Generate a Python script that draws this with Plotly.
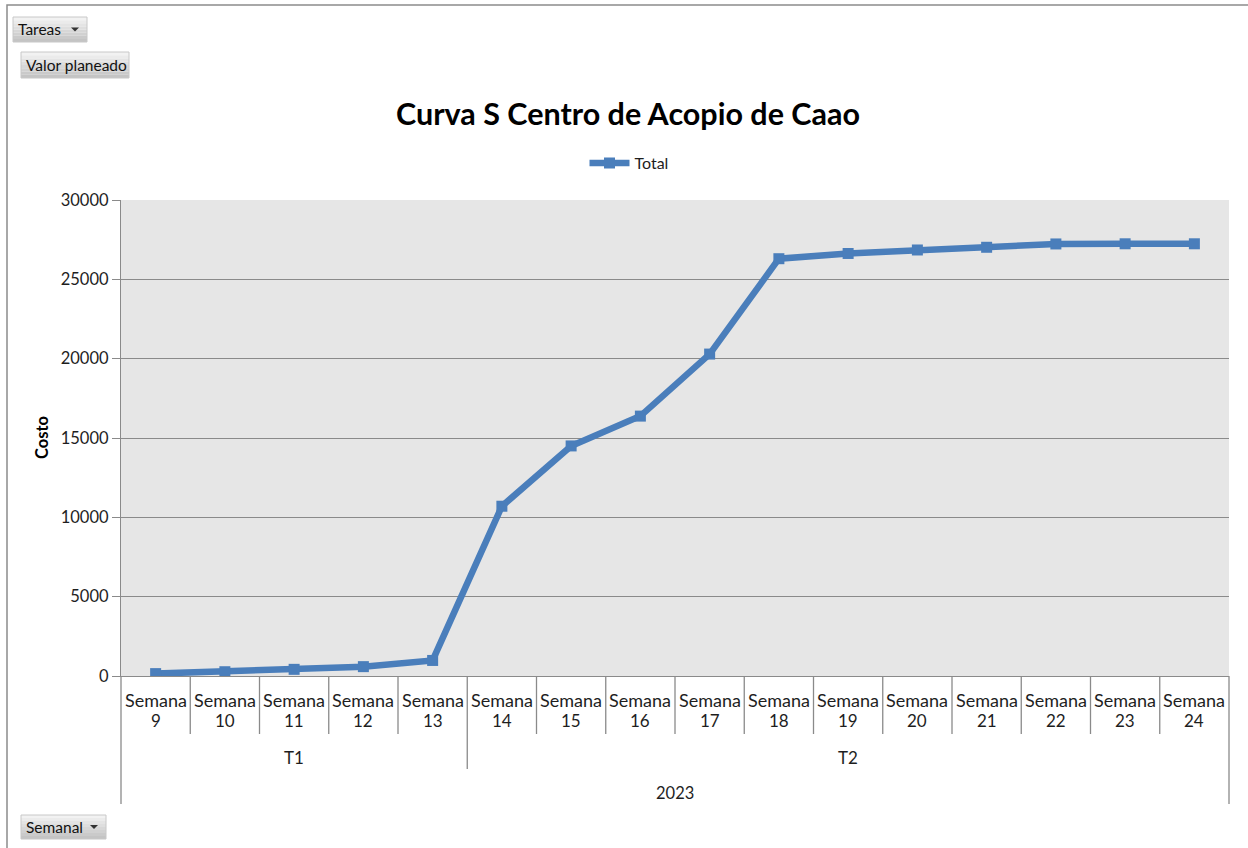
import plotly.graph_objects as go

# ---------------- data ----------------
weeks = ["Semana 9", "Semana 10", "Semana 11", "Semana 12", "Semana 13", "Semana 14",
         "Semana 15", "Semana 16", "Semana 17", "Semana 18", "Semana 19", "Semana 20",
         "Semana 21", "Semana 22", "Semana 23", "Semana 24"]
week_word = "Semana"
week_numbers = ["9", "10", "11", "12", "13", "14", "15", "16", "17", "18", "19", "20",
                "21", "22", "23", "24"]
quarters = ["T1", "T2"]
quarter_sizes = [5, 11]
year_label = "2023"
total = [150, 270, 420, 590, 980, 10700, 14500, 16380, 20290, 26300, 26630, 26850,
         27020, 27230, 27240, 27240]
y_ticks = [0, 5000, 10000, 15000, 20000, 25000, 30000]

# ---------------- layout geometry ----------------
W, H = 1248, 848
L, R, T, B = 121, 1229, 200, 676   # plot area in pixels


def px(x):
    return (x - L) / (R - L)


def py(y):
    return (B - y) / (B - T)


FONT = "Lato, 'Open Sans', sans-serif"
BLUE = "#4a7ebb"
GRAY = "#8a8a8a"
TXT = "#1e1e1e"

fig = go.Figure()
fig.add_trace(go.Scatter(
    x=weeks, y=total, mode="lines+markers", name="Total",
    line=dict(color=BLUE, width=6.5),
    marker=dict(symbol="square", size=11, color=BLUE),
))

shapes = []
annotations = []

# outer chart border
shapes.append(dict(type="rect", xref="paper", yref="paper",
                   x0=px(7), x1=px(1300), y0=py(5), y1=py(900),
                   line=dict(color="#8c8c8c", width=1.5), fillcolor="rgba(0,0,0,0)",
                   layer="below"))

# x-axis: week separators
n = len(weeks)
for i in range(1, n):
    bottom = 769 if i == quarter_sizes[0] else 734
    shapes.append(dict(type="line", xref="x", yref="paper",
                       x0=i - 0.5, x1=i - 0.5, y0=0, y1=py(bottom),
                       line=dict(color=GRAY, width=1.3)))
for xd in (0, 1):
    shapes.append(dict(type="line", xref="x domain", yref="paper",
                       x0=xd, x1=xd, y0=0, y1=py(804),
                       line=dict(color=GRAY, width=1.3)))

# week labels
for i, num in enumerate(week_numbers):
    annotations.append(dict(x=i, y=py(700), xref="x", yref="paper",
                            text=week_word, showarrow=False,
                            yanchor="middle", xanchor="center",
                            font=dict(family=FONT, size=18, color=TXT)))
    annotations.append(dict(x=i, y=py(720), xref="x", yref="paper",
                            text=num, showarrow=False,
                            yanchor="middle", xanchor="center",
                            font=dict(family=FONT, size=17, color=TXT)))
# quarter labels
start = 0
for q, size in zip(quarters, quarter_sizes):
    center = start + (size - 1) / 2
    annotations.append(dict(x=center, y=py(757), xref="x", yref="paper",
                            text=q, showarrow=False, yanchor="middle",
                            font=dict(family=FONT, size=17, color=TXT)))
    start += size
annotations.append(dict(x=(n - 1) / 2, y=py(793), xref="x", yref="paper",
                        text=year_label, showarrow=False, yanchor="middle",
                        font=dict(family=FONT, size=16.5, color=TXT)))

# y-axis title
annotations.append(dict(x=px(42), y=py(438), xref="paper", yref="paper",
                        text="<b>Costo</b>", textangle=-90, showarrow=False,
                        xanchor="center", yanchor="middle",
                        font=dict(family=FONT, size=16.5, color="#000")))


# pivot field buttons
def button(x0, y0, x1, y1, label, arrow):
    steps = 8
    top_c = (242, 242, 242)
    bot_c = (196, 196, 196)
    for k in range(steps):
        t = k / (steps - 1)
        c = tuple(int(top_c[j] + (bot_c[j] - top_c[j]) * t) for j in range(3))
        ya = y0 + (y1 - y0) * k / steps
        yb = y0 + (y1 - y0) * (k + 1) / steps
        shapes.append(dict(type="rect", xref="paper", yref="paper",
                           x0=px(x0), x1=px(x1), y0=py(ya), y1=py(yb),
                           line=dict(width=0), fillcolor="rgb(%d,%d,%d)" % c))
    shapes.append(dict(type="rect", xref="paper", yref="paper",
                       x0=px(x0), x1=px(x1), y0=py(y0), y1=py(y1),
                       line=dict(color="#c8c8c8", width=1), fillcolor="rgba(0,0,0,0)"))
    annotations.append(dict(x=px(x0 + 3), y=py((y0 + y1) / 2), xref="paper", yref="paper",
                            text=label, showarrow=False, xanchor="left", yanchor="middle",
                            font=dict(family=FONT, size=15.5, color="#111")))
    if arrow:
        ax = x1 - 12
        ay = (y0 + y1) / 2
        shapes.append(dict(type="path", xref="paper", yref="paper",
                           path="M %f,%f L %f,%f L %f,%f Z" % (
                               px(ax - 4), py(ay - 2), px(ax + 4), py(ay - 2),
                               px(ax), py(ay + 2)),
                           fillcolor="#333", line=dict(width=0)))


button(13, 17, 87, 42, "Tareas", True)
button(21, 52, 129, 78, "Valor planeado", False)
button(21, 815, 106, 839, "Semanal", True)

fig.update_layout(
    width=W, height=H,
    margin=dict(l=L, r=W - R, t=T, b=H - B),
    paper_bgcolor="white",
    plot_bgcolor="#e6e6e6",
    title=dict(text="<b>Curva S Centro de Acopio de Caao</b>",
               x=628 / W, xref="container", xanchor="center",
               y=1 - 114 / H, yref="container", yanchor="middle",
               font=dict(family=FONT, size=30.5, color="#000")),
    showlegend=True,
    legend=dict(orientation="h", x=px(629), xanchor="center", y=py(163), yanchor="middle",
                font=dict(family=FONT, size=16, color=TXT), bgcolor="rgba(0,0,0,0)",
                itemwidth=40),
    xaxis=dict(type="category", range=[-0.5, n - 0.5], showticklabels=False,
               showgrid=False, showline=True, linecolor=GRAY, linewidth=1.3,
               ticks="", zeroline=False, fixedrange=True),
    yaxis=dict(range=[0, 30000], tickvals=y_ticks, ticktext=[str(v) for v in y_ticks],
               showgrid=True, gridcolor=GRAY, gridwidth=1.3,
               showline=True, linecolor=GRAY, linewidth=1.3,
               ticks="outside", ticklen=8, tickcolor=GRAY, tickwidth=1.3,
               tickfont=dict(family=FONT, size=16.5, color=TXT),
               zeroline=False, fixedrange=True),
    shapes=shapes,
    annotations=annotations,
)

fig.write_html("out.html",
               config={"displayModeBar": False},
               post_script="document.body.style.margin='0';"
                           "document.body.style.overflow='hidden';")
